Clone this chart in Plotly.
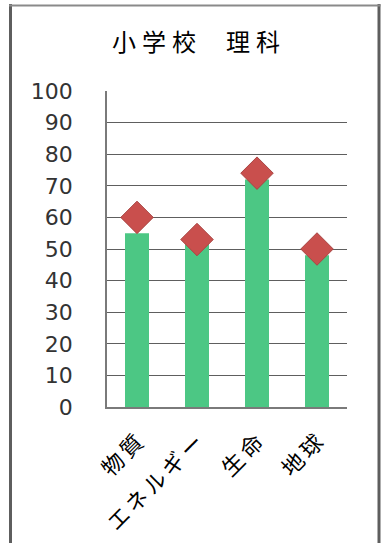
import plotly.graph_objects as go

categories = ["物質", "エネルギー", "生命", "地球"]
bar_values = [55, 52, 72, 48]
marker_values = [60, 53, 74, 50]
y_ticks = [0, 10, 20, 30, 40, 50, 60, 70, 80, 90, 100]
title_text = "小\u2005学\u2005校\u3000\u2005理\u2005科"
# display labels with a little letter spacing (same text)
tick_labels = ["\u2006".join(list(c)) for c in categories]

W, H = 384, 543
L, R, T, B = 107, 37, 91, 136
pw, ph = W - L - R, H - T - B

def px_x(x):
    return (x - L) / pw

def px_y(y):
    return (H - B - y) / ph

fig = go.Figure()
fig.add_trace(go.Bar(
    x=categories, y=bar_values, width=0.4,
    marker=dict(color="#4cc784", line=dict(width=0)),
    showlegend=False,
))
fig.add_trace(go.Scatter(
    x=categories, y=marker_values, mode="markers",
    marker=dict(symbol="diamond", size=25, color="#c94f4d",
                line=dict(color="#a94543", width=1)),
    showlegend=False,
))

frame_color = "#5e5e5e"
fig.add_shape(type="line", xref="paper", yref="paper",
              x0=px_x(10.5), x1=px_x(10.5), y0=px_y(4), y1=px_y(560),
              line=dict(color=frame_color, width=3))
fig.add_shape(type="line", xref="paper", yref="paper",
              x0=px_x(379), x1=px_x(379), y0=px_y(4), y1=px_y(560),
              line=dict(color=frame_color, width=3))
fig.add_shape(type="line", xref="paper", yref="paper",
              x0=px_x(9), x1=px_x(380.5), y0=px_y(5.5), y1=px_y(5.5),
              line=dict(color="#8a8a8a", width=2))

fig.update_layout(
    width=W, height=H,
    margin=dict(l=L, r=R, t=T, b=B, pad=0),
    paper_bgcolor="white", plot_bgcolor="white",
    title=dict(text=title_text, x=196 / W, xanchor="center",
               y=1 - 43 / H, yanchor="middle",
               font=dict(family="Noto Sans CJK JP", size=24, color="#000")),
    xaxis=dict(
        automargin=False,
        showline=True, linecolor="#7a7a7a", linewidth=1.5,
        tickangle=-45, ticks="", ticklabelstandoff=12,
        tickvals=categories, ticktext=tick_labels,
        tickfont=dict(family="Noto Sans CJK JP", size=22, color="#000"),
        showgrid=False, range=[-0.5, 3.5],
    ),
    yaxis=dict(
        automargin=False,
        range=[0, 100], tickvals=y_ticks, ticktext=[str(v) for v in y_ticks],
        showline=True, linecolor="#7a7a7a", linewidth=1.5,
        showgrid=True, gridcolor="#5e5e5e", gridwidth=1,
        zeroline=False, ticks="", ticklabelstandoff=28,
        tickfont=dict(family="DejaVu Sans", size=22, color="#333"),
    ),
    bargap=0.6,
)

fig.write_html("out.html")
